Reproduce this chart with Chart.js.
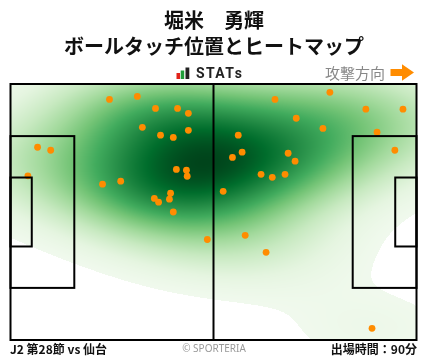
<!DOCTYPE html>
<html><head><meta charset="utf-8">
<script src="https://cdn.jsdelivr.net/npm/chart.js@4"></script>
<style>
html,body{margin:0;padding:0;background:#fff;}
#wrap{position:relative;width:428px;height:359px;overflow:hidden;font-family:"Noto Sans CJK JP","Noto Sans",sans-serif;}
#c{position:absolute;left:0;top:0;}
.t{position:absolute;white-space:nowrap;}
</style></head><body>
<div id="wrap">
<canvas id="c" width="428" height="359"></canvas>
<div class="t" style="left:0;width:428px;text-align:center;top:8px;font-size:20px;font-weight:bold;line-height:24px;color:#111">堀米　勇輝</div>
<div class="t" style="left:0;width:428px;text-align:center;top:34px;font-size:20px;font-weight:bold;line-height:24px;color:#111">ボールタッチ位置とヒートマップ</div>
<svg style="position:absolute;left:176px;top:67px" width="15" height="13"><rect x="0.5" y="6" width="3.5" height="6" fill="#e2231a"/><rect x="4.7" y="3.5" width="3.5" height="8.5" fill="#1e9e3a"/><rect x="9.5" y="0.5" width="3.8" height="11.5" fill="#222"/></svg>
<div class="t" style="left:196px;top:65px;font-family:Roboto,'Noto Sans',sans-serif;font-size:14px;font-weight:bold;line-height:16px;letter-spacing:1.4px;color:#222">STATs</div>
<div class="t" style="left:325px;top:64px;font-size:15px;line-height:18px;color:#888">攻撃方向</div>
<svg style="position:absolute;left:389px;top:63px" width="27" height="20"><polygon points="1.5,6 13,6 13,1.3 25,9.5 13,17.7 13,13 1.5,13" fill="#ff8c00"/></svg>
<div class="t" style="left:10px;top:341px;font-size:12px;font-weight:bold;line-height:16px;color:#111">J2 第28節 vs 仙台</div>
<div class="t" style="left:0;width:428px;text-align:center;top:341px;font-family:'Noto Sans',sans-serif;font-size:10px;line-height:14px;color:#999">© SPORTERIA</div>
<div class="t" style="right:11px;top:341px;font-size:12px;font-weight:bold;line-height:16px;color:#111">出場時間：90分</div>
</div>
<script>
// Ball touch positions (pitch metres, x: 0-105 left→right, y: 0-68 bottom→top)
const touchX = [25.6,32.8,34.1,7.0,10.4,4.5,23.8,28.5,37.5,43.2,46.0,46.0,38.8,42.1,42.9,45.5,45.7,41.4,37.2,38.3,41.1,42.1,68.4,58.9,59.9,57.4,64.8,67.7,55.0,82.6,91.9,101.5,73.9,80.8,94.8,99.4,71.8,73.6,71.0,50.9,60.7,66.1,93.5];
const touchY = [63.9,64.7,56.5,51.2,50.4,43.6,41.4,42.2,61.5,61.5,60.2,55.7,54.4,53.8,45.3,45.1,43.5,39.0,37.6,36.6,37.4,34.0,63.9,54.4,49.9,48.5,44.0,43.2,39.5,65.8,61.3,61.3,58.9,56.2,55.2,50.4,49.6,47.5,44.0,26.7,27.8,23.3,3.1];

const PITCH_L = 105, PITCH_W = 68;
const GREENS = [[247,252,245],[229,245,224],[199,233,192],[161,217,155],[116,196,118],[65,171,93],[35,139,69],[0,109,44],[0,68,27]];
const THRESH = 0.045;
const BW_ADJUST = 1.6;

function greens(t){
  t = Math.max(0, Math.min(1, t));
  const p = t * (GREENS.length - 1), i = Math.min(GREENS.length - 2, Math.floor(p)), f = p - i;
  const a = GREENS[i], b = GREENS[i+1];
  return [a[0]+(b[0]-a[0])*f, a[1]+(b[1]-a[1])*f, a[2]+(b[2]-a[2])*f];
}
function scottBw(v){
  const n = v.length, m = v.reduce((s, a) => s + a, 0)/n;
  const sd = Math.sqrt(v.reduce((s, a) => s + (a-m)*(a-m), 0)/(n-1));
  const s = [...v].sort((a, b) => a - b);
  const q = p => { const h = (n-1)*p, lo = Math.floor(h); return s[lo] + (s[Math.min(n-1, lo+1)] - s[lo])*(h-lo); };
  const iqr = (q(0.75) - q(0.25))/1.349;
  return 1.059 * Math.min(sd, iqr) * Math.pow(n, -0.2) * BW_ADJUST;
}

const heatPlugin = {
  id: 'heat',
  beforeDatasetsDraw(chart){
    const {ctx, chartArea: a, scales: {x, y}} = chart;
    const L = Math.floor(a.left), T = Math.floor(a.top);
    const W = Math.ceil(a.right) - L, H = Math.ceil(a.bottom) - T;
    const n = touchX.length;
    const bx = scottBw(touchX), by = scottBw(touchY);
    const dens = new Float64Array(W*H);
    let mx = 0;
    for (let j = 0; j < H; j++){
      const vy = y.getValueForPixel(T + j + 0.5);
      for (let i = 0; i < W; i++){
        const vx = x.getValueForPixel(L + i + 0.5);
        let s = 0;
        for (let k = 0; k < n; k++){
          const dx = (vx - touchX[k])/bx, dy = (vy - touchY[k])/by;
          s += Math.exp(-0.5*(dx*dx + dy*dy));
        }
        dens[j*W+i] = s;
        if (s > mx) mx = s;
      }
    }
    const off = document.createElement('canvas');
    off.width = W; off.height = H;
    const octx = off.getContext('2d');
    const img = octx.createImageData(W, H);
    for (let q = 0; q < W*H; q++){
      const t = dens[q]/mx;
      if (t < THRESH){ img.data[q*4+3] = 0; continue; }
      const c = greens(t);
      img.data[q*4] = c[0]; img.data[q*4+1] = c[1]; img.data[q*4+2] = c[2]; img.data[q*4+3] = 255;
    }
    octx.putImageData(img, 0, 0);
    ctx.save();
    ctx.beginPath(); ctx.rect(a.left, a.top, a.right-a.left, a.bottom-a.top); ctx.clip();
    ctx.drawImage(off, L, T);
    ctx.restore();
  }
};

const pitchPlugin = {
  id: 'pitch',
  afterDatasetsDraw(chart){
    const {ctx, scales: {x, y}} = chart;
    const R = (x0, y0, x1, y1) => {
      const px0 = x.getPixelForValue(x0), px1 = x.getPixelForValue(x1);
      const py0 = y.getPixelForValue(y0), py1 = y.getPixelForValue(y1);
      ctx.strokeRect(Math.min(px0,px1), Math.min(py0,py1), Math.abs(px1-px0), Math.abs(py1-py0));
    };
    ctx.save();
    ctx.strokeStyle = '#000'; ctx.lineWidth = 2;
    R(0, 0, PITCH_L, PITCH_W);
    ctx.beginPath();
    ctx.moveTo(x.getPixelForValue(PITCH_L/2), y.getPixelForValue(0));
    ctx.lineTo(x.getPixelForValue(PITCH_L/2), y.getPixelForValue(PITCH_W));
    ctx.stroke();
    const pb = 40.32, ga = 18.32;
    R(0, (PITCH_W-pb)/2, 16.5, (PITCH_W+pb)/2);
    R(PITCH_L-16.5, (PITCH_W-pb)/2, PITCH_L, (PITCH_W+pb)/2);
    R(0, (PITCH_W-ga)/2, 5.5, (PITCH_W+ga)/2);
    R(PITCH_L-5.5, (PITCH_W-ga)/2, PITCH_L, (PITCH_W+ga)/2);
    ctx.restore();
  }
};

new Chart(document.getElementById('c'), {
  type: 'scatter',
  data: { datasets: [{
    data: touchX.map((v, i) => ({x: v, y: touchY[i]})),
    backgroundColor: '#ff8c00', borderWidth: 0, pointRadius: 3.4, pointHoverRadius: 3.4
  }]},
  options: {
    responsive: false, animation: false,
    layout: { padding: { left: 10.5, right: 11.5, top: 84, bottom: 19 } },
    scales: {
      x: { type: 'linear', min: 0, max: PITCH_L, display: false },
      y: { type: 'linear', min: 0, max: PITCH_W, display: false }
    },
    plugins: { legend: {display: false}, tooltip: {enabled: false} }
  },
  plugins: [heatPlugin, pitchPlugin]
});
</script>
</body></html>
